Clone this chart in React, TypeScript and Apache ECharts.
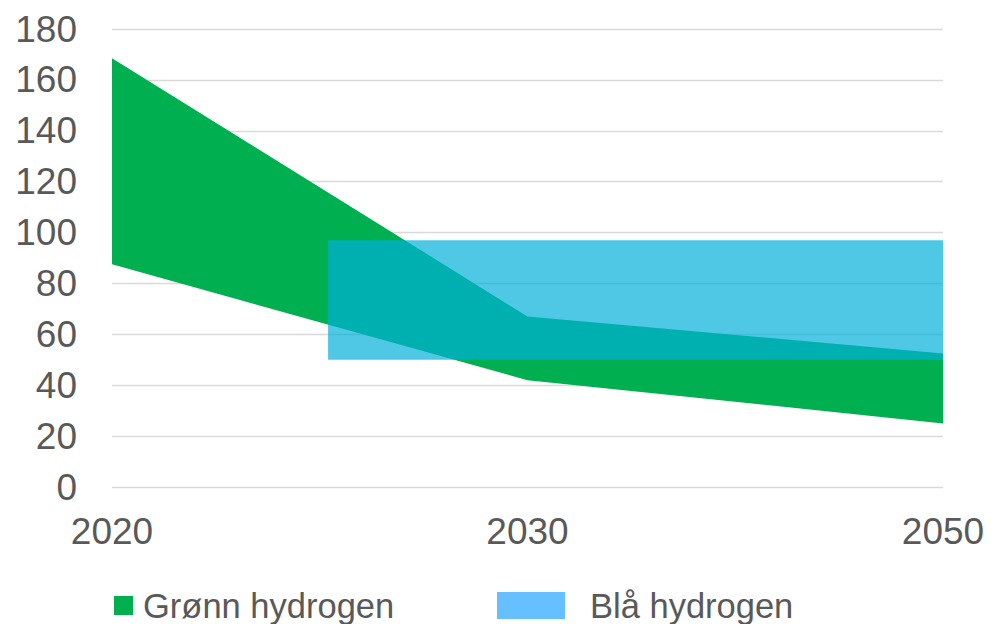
import React, { useEffect, useRef } from "react";
import * as echarts from "echarts";

// X positions are category slots: 0 = 2020, 1 = 2030, 2 = 2050
const xLabels = ["2020", "2030", "2050"];
const yTicks = [0, 20, 40, 60, 80, 100, 120, 140, 160, 180];

// Grønn hydrogen: range band (low / high) per year
const greenLow = [87.5, 42, 25];
const greenHigh = [168.5, 67, 52.5];

// Blå hydrogen: range band from about 2025 to 2050
const blueStartX = 0.52;
const blueEndX = 2;
const blueLow = 50;
const blueHigh = 97;

const FONT = "'Liberation Sans', Arial, sans-serif";
const GREEN = "#00B050";
const BLUE_FILL = "rgba(0,176,219,0.69)";
const BLUE_LEGEND = "#66BFFF";

export default function App() {
  const ref = useRef<HTMLDivElement>(null);

  useEffect(() => {
    if (!ref.current) return;
    const chart = echarts.init(ref.current, null, { renderer: "svg" });

    const greenData = greenLow.map((lo, i) => [i, lo, greenHigh[i]]);

    const option = {
      animation: false,
      grid: { left: 112, right: 48, top: 29, bottom: 137, containLabel: false },
      legend: [
        {
          left: 114,
          top: 588,
          padding: 0,
          itemWidth: 19,
          itemHeight: 19,
          data: [{ name: "Grønn hydrogen", icon: "rect", itemStyle: { color: GREEN } }],
          textStyle: { fontSize: 34.5, color: "#595959", fontFamily: FONT, padding: [0, 0, 0, 5] },
          selectedMode: false,
        },
        {
          left: 497,
          top: 588,
          padding: 0,
          itemWidth: 68,
          itemHeight: 27,
          data: [{ name: "Blå hydrogen", icon: "rect", itemStyle: { color: BLUE_LEGEND } }],
          textStyle: { fontSize: 34.5, color: "#595959", fontFamily: FONT, padding: [0, 0, 0, 20] },
          selectedMode: false,
        },
      ],
      xAxis: {
        type: "value",
        min: 0,
        max: xLabels.length - 1,
        interval: 1,
        axisLine: { show: false },
        axisTick: { show: false },
        splitLine: { show: false },
        axisLabel: {
          margin: 26,
          fontSize: 37,
          color: "#595959",
          fontFamily: FONT,
          showMinLabel: true,
          showMaxLabel: true,
          formatter: (v: number) => xLabels[Math.round(v)] ?? "",
        },
      },
      yAxis: {
        type: "value",
        min: yTicks[0],
        max: yTicks[yTicks.length - 1],
        interval: 20,
        axisLine: { show: false },
        axisTick: { show: false },
        splitLine: { lineStyle: { color: "#D9D9D9", width: 1.3 } },
        axisLabel: { margin: 35, fontSize: 37, color: "#595959", fontFamily: FONT },
      },
      series: [
        {
          name: "Grønn hydrogen",
          type: "custom",
          itemStyle: { color: GREEN },
          data: greenData,
          encode: { x: 0, y: [1, 2] },
          renderItem: (params: any, api: any) => {
            if (params.dataIndex !== 0) return null;
            const pts: number[][] = [];
            for (let i = 0; i < greenData.length; i++) pts.push(api.coord([greenData[i][0], greenData[i][2]]));
            for (let i = greenData.length - 1; i >= 0; i--) pts.push(api.coord([greenData[i][0], greenData[i][1]]));
            return {
              type: "polygon",
              shape: { points: pts },
              style: { fill: GREEN },
            };
          },
          z: 2,
        },
        {
          name: "Blå hydrogen",
          type: "custom",
          itemStyle: { color: BLUE_LEGEND },
          data: [[blueStartX, blueEndX, blueLow, blueHigh]],
          encode: { x: [0, 1], y: [2, 3] },
          renderItem: (params: any, api: any) => {
            const p0 = api.coord([api.value(0), api.value(3)]);
            const p1 = api.coord([api.value(1), api.value(2)]);
            return {
              type: "rect",
              shape: { x: p0[0], y: p0[1], width: p1[0] - p0[0], height: p1[1] - p0[1] },
              style: { fill: BLUE_FILL },
            };
          },
          z: 3,
        },
      ],
    };

    chart.setOption(option as any);
    return () => chart.dispose();
  }, []);

  return (
    <div
      ref={ref}
      style={{ position: "absolute", left: 0, top: 0, width: 991, height: 624 }}
    />
  );
}
